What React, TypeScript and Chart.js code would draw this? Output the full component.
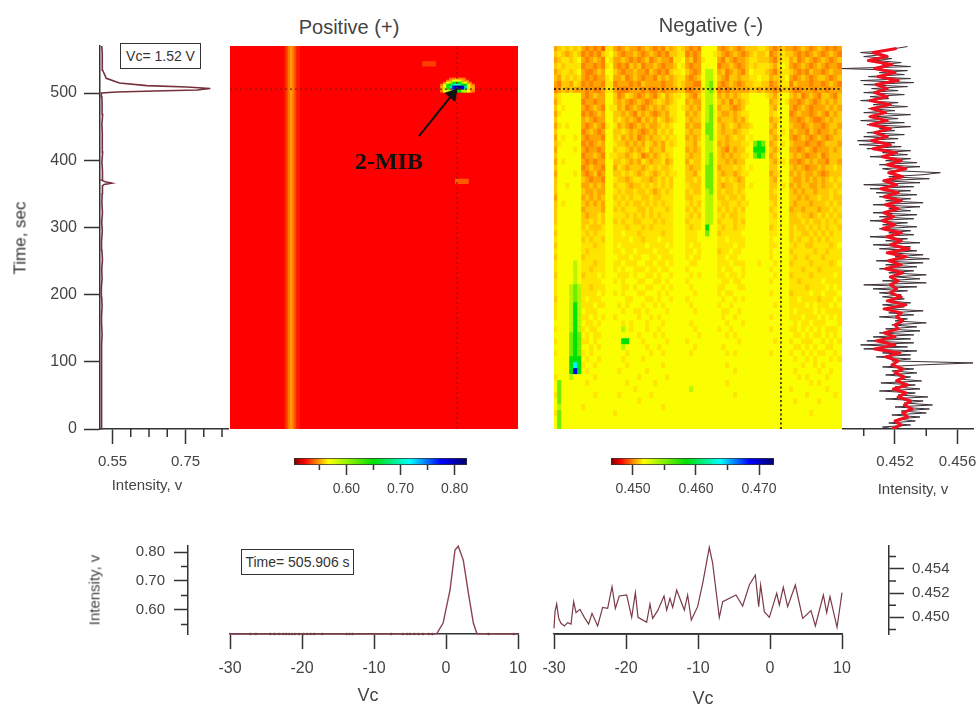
import React, { useEffect, useRef } from "react";
import { Chart, registerables } from "chart.js";
Chart.register(...registerables);

// ---------- axis ranges and ticks ----------
const VC_MIN = -30, VC_MAX = 10, T_MIN = 0, T_MAX = 570;
const VC_TICKS = [-30, -20, -10, 0, 10];
const TIME_TICKS = [0, 100, 200, 300, 400, 500];
const LEFT_X_TICKS = [0.55, 0.75];
const LEFT_X_MINOR = [0.6, 0.65, 0.7, 0.8, 0.85];
const RIGHT_X_TICKS = [0.452, 0.456];
const RIGHT_X_MINOR = [0.45, 0.454];
const BL_Y_TICKS = [0.6, 0.7, 0.8];
const BL_Y_MINOR = [0.55, 0.65, 0.75];
const BR_Y_TICKS = [0.45, 0.452, 0.454];
const BR_Y_MINOR = [0.449, 0.451, 0.453, 0.455];
const BR_Y_RANGE = [0.44863, 0.45587];
const CB_POS_RANGE = [0.503, 0.823];
const CB_POS_TICKS = [0.6, 0.7, 0.8];
const CB_POS_MINOR = [0.55, 0.65, 0.75];
const CB_NEG_RANGE = [0.44651, 0.47238];
const CB_NEG_TICKS = [0.45, 0.46, 0.47];
const CB_NEG_MINOR = [0.455, 0.465];

// ---------- colour table (fraction along the colour bar) ----------
const COLOR_STOPS: [number, string][] = [
  [0, "#7a0000"], [0.06, "#ff0000"], [0.2, "#ffff00"], [0.46, "#00e000"],
  [0.67, "#00ffff"], [0.85, "#0000ff"], [1, "#000070"],
];

// ---------- positive map ----------
const POS_BASE = 0.522;
const POS_BAND_VC = [-22.22, -21.94, -21.67, -21.39, -21.11, -20.83, -20.55];
const POS_BAND_VAL = [0.527, 0.535, 0.544, 0.551, 0.544, 0.535, 0.527];
const POS_SPOT_LEVELS = [0.522, 0.5446, 0.551, 0.567, 0.5926, 0.65, 0.6886, 0.7174, 0.775, 0.813];
const POS_SPOT_ROWS = [
  "00011211000",
  "00123332100",
  "01345554310",
  "13556765531",
  "23568998632",
  "24568998642",
  "13444554431",
];
const POS_SPOT_VC0 = -0.486;
const POS_SPOT_T0 = 522.3;
const POS_SMALL_VC = [-2.36, -2.36, 2.2, 2.2];
const POS_SMALL_T = [542, 545, 367, 370];
const POS_SMALL_VAL = [0.533, 0.533, 0.538, 0.538];

// ---------- negative map: one string per row, top to bottom ----------
const NEG_LEVELS = [0.4494, 0.4499, 0.4504, 0.4509, 0.4513, 0.4518, 0.4536, 0.4555, 0.4585, 0.464, 0.467, 0.469];
const NEG_ROWS = [
  "2 343434 212120 44 212322123212132 343 2121 5555 2123212 333443 21 232 2123212321212",
  "3 432343 121213 45 321223212321213 344 1212 5554 3212321 234334 12 343 3212123212321",
  "2 344345 212321 54 223212123123221 445 2312 4555 2132122 344333 21 344 2312321232123",
  "3 434444 122121 45 212132312232122 354 2122 5555 1223212 343444 32 454 2123212321221",
  "2 344345 211232 55 321223221321213 445 3212 5665 2312321 354443 21 344 3212132212322",
  "3 243434 212122 45 223123212213232 344 2123 5665 3213323 344544 23 345 2123212332123",
  "2 133243 121221 44 122212132222122 343 2211 5675 2123212 334433 12 344 1322212212321",
  "1 232322 212112 44 211122212112122 233 1122 4674 1212222 233232 21 233 2112221221222",
  "3 455555 212322 55 312432123213423 445 3213 5665 2323234 455554 32 455 3231232133213",
  "2 455555 122122 55 323212321234323 455 2322 5665 3231323 455555 23 454 2212321232323",
  "3 545555 212321 54 423123212323234 454 3232 5675 2332123 555555 32 555 2123212223232",
  "2 455555 121232 55 332321323212324 455 2323 5675 3223234 455555 34 555 1232212321323",
  "3 555555 232122 55 343232132324323 455 3233 5675 2333232 455555 23 455 2212321123233",
  "2 454555 212321 45 423212323223434 555 2322 5775 3234323 345555 32 555 3221232212332",
  "3 555555 123212 55 334323212324343 555 3233 5775 3233234 455555 23 545 2322132122323",
  "2 545545 212221 55 342323123233434 455 2323 5675 3323433 545555 32 455 2123212321233",
  "3 455555 121232 55 433232324323243 455 3324 5665 2323334 457875 23 545 3222122123332",
  "2 555545 212212 55 344323234233244 555 2323 5665 3213233 558885 32 455 2212321222323",
  "3 555555 122321 54 433234312323434 555 3233 5675 3232334 457875 23 555 3232122312333",
  "2 545555 212122 55 334323243233423 555 2433 5675 3323233 555555 32 445 2212323221332",
  "3 555555 123221 55 243233323434334 555 3233 5775 2333434 545555 33 555 3232122323343",
  "2 555545 212312 55 334343234323434 455 3324 5775 3233234 455555 23 455 2323223212333",
  "3 555555 321221 55 433234433234343 555 3343 5775 3434323 555555 32 555 3223232323434",
  "3 554555 223232 55 344323343434343 555 4333 5775 3233433 545555 33 545 2323322323343",
  "3 555555 322322 55 434334334323434 555 3433 5675 3433434 555555 34 555 3232332333434",
  "2 555555 232323 55 343434433433444 555 3344 5665 3343343 555555 33 555 3323233433433",
  "3 545555 323232 55 434343343434344 555 4343 5665 4334434 455555 43 555 3233323334343",
  "3 555555 233332 55 343444334344434 555 3434 5665 3434343 555555 34 555 2332333233434",
  "3 555555 323343 55 444343434343444 555 4343 5665 4343344 555555 43 555 3343323434343",
  "3 555555 334343 55 343443344434344 555 3444 5665 3444343 555555 44 555 3334343343434",
  "4 555555 343334 55 444344434344444 555 4344 5855 4344344 555555 34 555 3433434343443",
  "3 555555 434344 55 445444344444344 555 4445 5755 3444445 555555 44 555 3443343434344",
  "4 555555 343443 55 444454434445444 555 4445 5555 4454444 555555 45 555 3434434343444",
  "3 555555 444344 55 454444445444454 555 4544 5555 4444544 555555 44 555 4344334444345",
  "4 555555 434444 55 445445444454445 555 4454 5555 3445445 555555 45 555 3444443443444",
  "3 555555 344444 55 544454455445444 555 4544 5555 4454455 555555 45 555 4344344434444",
  "4 555565 444344 55 445444554454454 555 5445 5555 4445444 555455 54 555 3444434444345",
  "4 555565 443444 55 454554445445445 555 4555 5555 4544554 555555 45 555 4443444344444",
  "3 555565 344454 55 544454554454554 555 5454 5555 4454454 555555 54 555 3444434444454",
  "4 555565 444445 55 454555445544545 555 4555 5555 5445445 555555 45 555 4434444454444",
  "4 555676 443444 55 554454554455454 555 5455 5555 4455544 555555 55 555 4444344445454",
  "4 555676 444454 55 454555445554545 555 5545 5555 4544555 555555 45 555 3444454454445",
  "3 555676 454445 55 555445554454554 555 4555 5555 5455454 555555 55 555 4454444344454",
  "4 555686 444544 55 545455545545455 555 5455 5555 4554555 555555 54 555 4444545444545",
  "4 555686 544455 55 554554454555545 555 5545 5555 5445545 555555 55 555 4544445454444",
  "4 555686 445454 55 455555455454555 555 5555 5555 5455455 555555 45 555 4445444545454",
  "5 555686 544545 55 554545554555455 555 5455 5555 5545554 555555 55 555 5454454445554",
  "4 555686 454455 55 556545554554555 555 5545 5555 4554555 555555 45 555 4454545454445",
  "5 555787 545445 55 555555455545455 555 5554 5555 5545455 555555 55 555 5445454454545",
  "4 555787 445455 55 558855545555545 555 4555 5555 5555545 555555 54 555 4554445545454",
  "5 555787 554545 55 556555554554555 555 5545 5555 5455555 555555 55 555 5445454554455",
  "4 555787 454555 55 555455555455455 555 5455 5555 5545455 555555 45 555 4554545445545",
  "5 555888 545545 55 554555545555555 555 5555 5555 5555555 555555 55 555 5455454555454",
  "5 555898 455455 55 555455555555455 555 5555 5555 5545555 555555 55 555 5554554545555",
  "5 5558b8 545555 55 545555554555555 555 5555 5555 5555455 555555 55 555 5455555455455",
  "4 555655 555455 55 555555455555545 555 5555 5555 5555555 555555 55 555 5545455554555",
  "5 755555 545555 55 555455555545555 555 5555 5555 5545555 555555 55 555 5555545455555",
  "5 755555 555555 55 555554555555555 555 5655 5555 5555555 555555 55 555 4555555554555",
  "4 755555 555455 55 545555555455555 555 5555 5555 5555455 555555 55 555 5555455555545",
  "5 755555 555555 55 555555455555555 555 5555 5555 5555555 555555 55 555 5455555455555",
  "5 655555 455555 55 555555555555455 555 5555 5555 5555555 555555 55 555 5555555555555",
  "4 755555 555555 55 455555555555555 555 5555 5555 5555555 555555 55 555 5555545555555",
  "5 755555 555555 55 555555555555555 555 5555 5555 5555555 555555 55 555 5555555555555",
  "5 755555 555555 55 555555555555555 555 5555 5555 5555555 555555 55 555 5555555555555",
];

// ---------- crosshair and arrow ----------
const CROSS_VC = 1.52;
const CROSS_T = 505.906;
const ARROW_VC = [-3.75, 0.9];
const ARROW_T = [436, 498];

// ---------- left profile (Vc = 1.52 V) ----------
const LEFT_T = [0, 14, 28, 42, 56, 70, 84, 98, 112, 126, 140, 154, 168, 182, 196, 210, 224, 238, 252, 266, 280, 294, 308, 322, 336, 350, 362, 364, 366, 368, 370, 384, 398, 412, 426, 440, 454, 468, 482, 494, 500, 501.5, 503, 504.5, 506.7, 509, 511, 515, 522, 534, 549, 560, 570];
const LEFT_V = [0.5195, 0.5205, 0.5195, 0.521, 0.52, 0.5195, 0.521, 0.52, 0.5205, 0.5195, 0.5215, 0.5205, 0.52, 0.5215, 0.5205, 0.5195, 0.5215, 0.5205, 0.5225, 0.521, 0.52, 0.522, 0.5205, 0.5225, 0.521, 0.5215, 0.5225, 0.527, 0.548, 0.53, 0.5215, 0.5225, 0.521, 0.523, 0.5215, 0.5225, 0.521, 0.523, 0.5215, 0.521, 0.5196, 0.561, 0.666, 0.782, 0.818, 0.754, 0.644, 0.569, 0.533, 0.523, 0.5215, 0.5225, 0.5205];

// ---------- right profile, bottom to top ----------
const TRACE_DT = 2.98;
const TRACE_DARK = [
  .4520,.4512,.4530,.4516,.4533,.4522,.4536,.4518,.4540,.4524,
  .4542,.4520,.4544,.4526,.4538,.4514,.4541,.4522,.4533,.4510,
  .4536,.4520,.4533,.4511,.4537,.4522,.4530,.4514,.4534,.4518,
  .4532,.4512,.4536,.4570,.4518,.4530,.4508,.4530,.4512,.4534,
  .4500,.4528,.4498,.4532,.4502,.4530,.4506,.4532,.4510,.4536,
  .4514,.4534,.4518,.4540,.4520,.4528,.4510,.4532,.4516,.4538,
  .4516,.4526,.4512,.4530,.4515,.4526,.4512,.4524,.4510,.4528,
  .4506,.4534,.4500,.4540,.4512,.4536,.4520,.4540,.4516,.4532,
  .4510,.4534,.4514,.4538,.4508,.4542,.4520,.4538,.4516,.4534,
  .4510,.4530,.4506,.4536,.4514,.4528,.4504,.4532,.4516,.4530,
  .4510,.4534,.4512,.4528,.4504,.4532,.4510,.4534,.4506,.4530,
  .4516,.4536,.4506,.4538,.4514,.4530,.4510,.4534,.4508,.4530,
  .4504,.4532,.4500,.4536,.4512,.4542,.4516,.4538,.4549,.4520,
  .4512,.4536,.4510,.4534,.4514,.4530,.4504,.4528,.4512,.4530,
  .4502,.4524,.4497,.4520,.4496,.4522,.4500,.4526,.4502,.4520,
  .4510,.4530,.4502,.4526,.4498,.4522,.4508,.4530,.4500,.4520,
  .4503,.4528,.4506,.4522,.4498,.4516,.4504,.4526,.4500,.4522,
  .4505,.4528,.4500,.4532,.4498,.4530,.4503,.4526,.4510,.4528,
  .4486,.4530,.4512,.4524,.4508,.4518,.4500,.4512,.4498,.4516,
  .4520,.4528,
];
const TRACE_RED_DT = 5.96;
const TRACE_RED = [
  .4518,.4524,.4520,.4528,.4525,.4531,.4526,.4530,.4522,.4527,
  .4519,.4528,.4521,.4526,.4520,.4525,.4518,.4522,.4514,.4523,
  .4507,.4520,.4508,.4520,.4513,.4522,.4520,.4525,.4521,.4524,
  .4513,.4527,.4515,.4524,.4517,.4521,.4517,.4522,.4517,.4525,
  .4514,.4524,.4516,.4527,.4515,.4529,.4517,.4524,.4515,.4524,
  .4512,.4520,.4512,.4519,.4513,.4522,.4514,.4524,.4513,.4522,
  .4511,.4521,.4513,.4525,.4516,.4527,.4515,.4524,.4512,.4521,
  .4506,.4517,.4505,.4515,.4507,.4517,.4504,.4515,.4504,.4514,
  .4505,.4517,.4504,.4515,.4507,.4515,.4508,.4522,.4509,.4520,
  .4507,.4518,.4503,.4515,.4506,.4521,
];

// ---------- bottom spectra ----------
const BL_VC = [-30, -10, -1.3, -0.4, 0.56, 1.25, 1.7, 2.4, 3.1, 3.8, 4.3, 10];
const BL_V = [0.5172, 0.5172, 0.518, 0.555, 0.669, 0.807, 0.82, 0.772, 0.66, 0.555, 0.518, 0.5172];
const BL_SPECK_VC = [-27.2, -26.4, -24.4, -23.8, -23.2, -22.6, -22.2, -21.8, -21.4, -21, -20.4, -19.8, -19.3, -18.8, -18.3, -17.2, -13.8, -13.4, -13, -7.6, -6, -5.4, -5, -4.4, -3.8, -3.2, -2.4, -1.9, 5.9, 9.4];
const BR_VC = [-30, -29.86, -29.63, -29.35, -29.03, -28.56, -28.1, -27.64, -27.27, -26.94, -26.39, -25.79, -25.19, -24.72, -23.94, -23.24, -22.55, -21.94, -21.48, -20.93, -19.91, -19.21, -18.7, -18.33, -17.13, -16.67, -16.3, -15.6, -14.72, -14.35, -13.89, -13.52, -12.96, -11.9, -11.44, -10.93, -10.05, -9.35, -8.43, -7.96, -7.04, -6.57, -4.72, -3.8, -2.87, -2.04, -1.57, -1.3, -0.79, -0.09, 0.93, 1.3, 1.85, 2.45, 3.52, 4.54, 5.69, 6.3, 7.41, 7.87, 8.33, 9.31, 10];
const BR_V = [.44909, .45047, .4511, .44992, .44951, .44929, .44956, .44945, .45129, .45038, .45066, .45, .44945, .45033, .44929, .45082, .45074, .45252, .45074, .45176, .45184, .45, .45203, .45, .44959, .4511, .44992, .45055, .45176, .4506, .45156, .45082, .45225, .4506, .45184, .44978, .45088, .4528, .45576, .45444, .45, .45129, .45184, .45093, .45266, .45348, .45088, .45266, .45047, .45, .45198, .45102, .45247, .45088, .45266, .44992, .45055, .44929, .45184, .45038, .4517, .44918, .45203];

// ---------- helpers ----------
const INK = "#333";
const FONT = "'Liberation Sans', Arial, sans-serif";

function hex(c: string) {
  return [1, 3, 5].map((i) => parseInt(c.slice(i, i + 2), 16));
}
function colorAt(f: number) {
  const s = COLOR_STOPS;
  if (f <= s[0][0]) return s[0][1];
  for (let i = 1; i < s.length; i++) {
    if (f <= s[i][0]) {
      const k = (f - s[i - 1][0]) / (s[i][0] - s[i - 1][0]);
      const a = hex(s[i - 1][1]), b = hex(s[i][1]);
      return `rgb(${a.map((v, j) => Math.round(v + (b[j] - v) * k)).join(",")})`;
    }
  }
  return s[s.length - 1][1];
}
const colorOf = (v: number, range: number[]) => colorAt((v - range[0]) / (range[1] - range[0]));

const fixedTicks = (vals: number[]) => (axis: any) => {
  axis.ticks = vals.map((value) => ({ value }));
};
const noPad = (s: any) => { s.paddingLeft = 0; s.paddingRight = 0; s.paddingTop = 0; s.paddingBottom = 0; };
const fitH = (h: number) => (s: any) => { s.height = h; noPad(s); };
const fitW = (w: number) => (s: any) => { s.width = w; noPad(s); };
const axisGrid = (len: number) => ({ drawOnChartArea: false, tickLength: len, tickWidth: 1.5, tickColor: INK });
const axisBorder = { color: INK, width: 1.5 };
const tickFont = (size: number) => ({ family: FONT, size });

function minorPlugin(axisId: string, minors: number[], len: number) {
  return {
    id: "minor" + axisId,
    afterDraw(chart: any) {
      const s = chart.scales[axisId];
      const ctx = chart.ctx;
      ctx.save();
      ctx.strokeStyle = INK;
      ctx.lineWidth = 1.5;
      ctx.beginPath();
      for (const v of minors) {
        const p = s.getPixelForValue(v);
        if (s.position === "bottom") { ctx.moveTo(p, s.top); ctx.lineTo(p, s.top + len); }
        else if (s.position === "left") { ctx.moveTo(s.right, p); ctx.lineTo(s.right - len, p); }
        else { ctx.moveTo(s.left, p); ctx.lineTo(s.left + len, p); }
      }
      ctx.stroke();
      ctx.restore();
    },
  };
}
function shiftPlugin(axisId: string, dx: number) {
  return {
    id: "shift" + axisId,
    afterLayout(chart: any) {
      const s = chart.scales[axisId];
      s.left += dx;
      s.right += dx;
    },
  };
}

const baseOptions = (padding: any, scales: any) => ({
  responsive: false,
  maintainAspectRatio: false,
  animation: false,
  events: [],
  layout: { autoPadding: false, padding },
  plugins: { legend: { display: false }, tooltip: { enabled: false }, title: { display: false } },
  scales,
});

const hiddenMapScales = {
  x: { type: "linear", display: false, min: VC_MIN, max: VC_MAX, offset: false },
  y: { type: "linear", display: false, min: T_MIN, max: T_MAX },
};

function cellSet(cells: any[], colors: string[], thickness: number, order: number) {
  return { type: "bar", data: cells, backgroundColor: colors, barThickness: thickness, grouped: false, borderWidth: 0, order };
}
function crossSets(color: string, dash: number[], width: number) {
  const common = { type: "line", borderColor: color, borderDash: dash, borderWidth: width, pointRadius: 0, order: 0, fill: false };
  return [
    { ...common, data: [{ x: CROSS_VC, y: T_MIN }, { x: CROSS_VC, y: T_MAX }] },
    { ...common, data: [{ x: VC_MIN, y: CROSS_T }, { x: VC_MAX, y: CROSS_T }] },
  ];
}

function positiveConfig() {
  const band = POS_BAND_VC.map((x) => ({ x, y: [T_MIN, T_MAX] }));
  const spot: any[] = [], spotC: string[] = [];
  POS_SPOT_ROWS.forEach((row, r) => {
    [...row].forEach((ch, c) => {
      if (ch === "0") return;
      const t = POS_SPOT_T0 - r * 2.976;
      spot.push({ x: POS_SPOT_VC0 + c * 0.4167, y: [t - 3.2, t] });
      spotC.push(colorOf(POS_SPOT_LEVELS[+ch], CB_POS_RANGE));
    });
  });
  const small = POS_SMALL_VC.map((x, i) => ({ x, y: [POS_SMALL_T[i] - 2, POS_SMALL_T[i] + 2] }));
  return {
    data: {
      datasets: [
        {
          type: "line",
          data: ARROW_VC.map((x, i) => ({ x, y: ARROW_T[i] })),
          borderColor: "#111",
          backgroundColor: "#111",
          borderWidth: 2,
          pointStyle: "triangle",
          pointRotation: 40,
          pointRadius: [0, 6],
          order: -1,
        },
        ...crossSets("#901800", [2, 3], 1.2),
        cellSet(spot, spotC, 4, 1),
        cellSet(small, POS_SMALL_VAL.map((v) => colorOf(v, CB_POS_RANGE)), 13, 2),
        cellSet(band, POS_BAND_VAL.map((v) => colorOf(v, CB_POS_RANGE)), 3, 3),
        cellSet([{ x: -10, y: [T_MIN, T_MAX] }], [colorOf(POS_BASE, CB_POS_RANGE)], 292, 4),
      ],
    },
    options: baseOptions(0, hiddenMapScales),
  };
}

function negativeConfig() {
  const cells: any[] = [], colors: string[] = [];
  const nR = NEG_ROWS.length;
  NEG_ROWS.forEach((raw, r) => {
    const row = raw.replace(/ /g, "");
    const nC = 72;
    for (let c = 0; c < nC; c++) {
      const lvl = parseInt(row[c] ?? "5", 36);
      const t0 = T_MAX - ((r + 1) * (T_MAX - T_MIN)) / nR;
      const t1 = T_MAX - (r * (T_MAX - T_MIN)) / nR;
      cells.push({ x: VC_MIN + ((c + 0.5) * (VC_MAX - VC_MIN)) / nC, y: [t0, t1 + 1] });
      colors.push(colorOf(NEG_LEVELS[lvl], CB_NEG_RANGE));
    }
  });
  return {
    data: { datasets: [cellSet(cells, colors, 5, 1)] },
    options: baseOptions(0, hiddenMapScales),
  };
}

function negativeCrossConfig() {
  return {
    data: { datasets: crossSets("#111", [2, 2.5], 1.5) },
    options: baseOptions(0, hiddenMapScales),
  };
}

function leftConfig() {
  return {
    type: "scatter",
    data: {
      datasets: [{
        data: LEFT_T.map((y, i) => ({ x: LEFT_V[i], y })),
        showLine: true, borderColor: "#74303c", borderWidth: 1.6, pointRadius: 0, clip: false,
      }],
    },
    options: baseOptions({ top: 16, right: 2 }, {
      x: {
        type: "linear", min: 0.5158, max: 0.8664, afterBuildTicks: fixedTicks(LEFT_X_TICKS),
        afterFit: fitH(91),
        border: axisBorder, grid: axisGrid(15),
        ticks: { font: tickFont(15), color: "#444", padding: 9, maxRotation: 0, autoSkip: false, callback: (v: number) => v.toFixed(2) },
      },
      y: {
        type: "linear", min: T_MIN, max: T_MAX, afterBuildTicks: fixedTicks(TIME_TICKS),
        afterFit: fitW(100),
        border: axisBorder, grid: axisGrid(16),
        ticks: { font: tickFont(16), color: "#444", padding: 7, autoSkip: false, callback: (v: number) => String(v) },
      },
    }),
    plugins: [minorPlugin("x", LEFT_X_MINOR, 8)],
  };
}

function rightConfig() {
  return {
    type: "scatter",
    data: {
      datasets: [
        { data: TRACE_RED.map((x, i) => ({ x, y: i * TRACE_RED_DT })), showLine: true, borderColor: "#f01020", borderWidth: 3, borderJoinStyle: "round", pointRadius: 0, order: 0 },
        { data: TRACE_DARK.map((x, i) => ({ x, y: i * TRACE_DT })), showLine: true, borderColor: "#3c3038", borderWidth: 1, pointRadius: 0, order: 1 },
      ],
    },
    options: baseOptions({ top: 16, right: 6 }, {
      x: {
        type: "linear", min: 0.44861, max: 0.45699, afterBuildTicks: fixedTicks(RIGHT_X_TICKS),
        afterFit: fitH(91),
        border: axisBorder, grid: axisGrid(15),
        ticks: { font: tickFont(15), color: "#444", padding: 9, maxRotation: 0, autoSkip: false, callback: (v: number) => v.toFixed(3) },
      },
      y: { type: "linear", display: false, min: T_MIN, max: T_MAX },
    }),
    plugins: [minorPlugin("x", RIGHT_X_MINOR, 7)],
  };
}

function colorbarConfig(range: number[], ticks: number[], minors: number[], digits: number) {
  return {
    type: "bar",
    data: {
      labels: [""],
      datasets: [{
        data: [range],
        barPercentage: 1,
        categoryPercentage: 1,
        borderColor: "#333",
        borderWidth: 1,
        borderSkipped: false,
        backgroundColor: (c: any) => {
          const a = c.chart.chartArea;
          if (!a) return "#ff0000";
          const g = c.chart.ctx.createLinearGradient(a.left, 0, a.right, 0);
          COLOR_STOPS.forEach(([f, col]) => g.addColorStop(f, col));
          return g;
        },
      }],
    },
    options: {
      indexAxis: "y",
      ...baseOptions({ top: 8, left: 20, right: 20 }, {
        x: {
          type: "linear", min: range[0], max: range[1], afterBuildTicks: fixedTicks(ticks),
          afterFit: fitH(35),
          border: { display: false }, grid: axisGrid(10),
          ticks: { font: tickFont(14), color: "#444", padding: 6, maxRotation: 0, autoSkip: false, callback: (v: number) => v.toFixed(digits) },
        },
        y: { type: "category", display: false, offset: true },
      }),
    },
    plugins: [minorPlugin("x", minors, 5)],
  };
}

const vcAxis = () => ({
  type: "linear", min: VC_MIN, max: VC_MAX, afterBuildTicks: fixedTicks(VC_TICKS),
  afterFit: fitH(70),
  border: axisBorder, grid: axisGrid(15),
  ticks: { font: tickFont(16), color: "#444", padding: 10, maxRotation: 0, autoSkip: false, callback: (v: number) => String(v) },
});

function bottomLeftConfig() {
  return {
    type: "scatter",
    data: {
      datasets: [
        { data: BL_VC.map((x, i) => ({ x, y: BL_V[i] })), showLine: true, borderColor: "#8a4450", borderWidth: 1.4, pointRadius: 0, clip: false, order: 0 },
        { data: BL_SPECK_VC.map((x) => ({ x, y: 0.5172 })), backgroundColor: "#333", pointRadius: 1.3, borderWidth: 0, clip: false, order: 1 },
      ],
    },
    options: baseOptions({ top: 16, right: 12 }, {
      x: vcAxis(),
      y: {
        type: "linear", min: 0.5172, max: 0.8207, afterBuildTicks: fixedTicks(BL_Y_TICKS),
        afterFit: fitW(160),
        border: axisBorder, grid: axisGrid(14),
        ticks: { font: tickFont(15), color: "#444", padding: 9, autoSkip: false, callback: (v: number) => v.toFixed(2) },
      },
    }),
    plugins: [shiftPlugin("y", -42), minorPlugin("y", BL_Y_MINOR, 7)],
  };
}

function bottomRightConfig() {
  return {
    type: "scatter",
    data: {
      datasets: [
        { data: BR_VC.map((x, i) => ({ x, y: BR_V[i] })), showLine: true, borderColor: "#7a3a46", borderWidth: 1.2, pointRadius: 0, clip: false, order: 0 },
        { data: [{ x: VC_MIN, y: BR_Y_RANGE[0] }, { x: VC_MAX, y: BR_Y_RANGE[0] }], showLine: true, borderColor: INK, borderWidth: 1.5, pointRadius: 0, clip: false, order: 1 },
      ],
    },
    options: baseOptions({ top: 16, left: 14 }, {
      x: vcAxis(),
      y: {
        type: "linear", position: "right", min: BR_Y_RANGE[0], max: BR_Y_RANGE[1], afterBuildTicks: fixedTicks(BR_Y_TICKS),
        afterFit: fitW(137),
        border: axisBorder, grid: axisGrid(15),
        ticks: { font: tickFont(15), color: "#444", padding: 8, autoSkip: false, callback: (v: number) => v.toFixed(3) },
      },
    }),
    plugins: [shiftPlugin("y", 47), minorPlugin("y", BR_Y_MINOR, 7)],
  };
}

function Panel({ left, top, width, height, make, blur }: any) {
  const ref = useRef<HTMLCanvasElement | null>(null);
  useEffect(() => {
    const cfg: any = make();
    const chart = new Chart(ref.current as any, { type: "bar", ...cfg });
    return () => chart.destroy();
  }, []);
  return <canvas ref={ref} width={width} height={height} style={{ position: "absolute", left, top, width, height, filter: blur ? `blur(${blur}px)` : undefined }} />;
}

function Label({ x, y, text, size = 15, rotate = 0, family = FONT, weight = 400, color = "#444" }: any) {
  return (
    <div style={{
      position: "absolute", left: x, top: y, whiteSpace: "nowrap", fontFamily: family, fontSize: size, fontWeight: weight, color,
      transform: `translate(-50%,-50%) rotate(${rotate}deg)`, lineHeight: 1,
    }}>{text}</div>
  );
}
function Box({ left, top, width, height, text }: any) {
  return (
    <div style={{
      position: "absolute", left, top, width, height, boxSizing: "border-box", border: "1.5px solid #333", background: "#fff",
      display: "flex", alignItems: "center", justifyContent: "center", fontFamily: FONT, fontSize: 14, color: "#333", whiteSpace: "nowrap",
    }}>{text}</div>
  );
}

export default function App() {
  return (
    <div style={{ position: "absolute", left: 0, top: 0, width: 979, height: 704, overflow: "hidden", background: "#fff", filter: "blur(0.5px)" }}>
      <Panel left={0} top={30} width={230} height={490} make={leftConfig} />
      <Panel left={230} top={46} width={288} height={383} make={positiveConfig} />
      <Panel left={554} top={46} width={288} height={383} make={negativeConfig} blur={0.5} />
      <Panel left={554} top={46} width={288} height={383} make={negativeCrossConfig} />
      <Panel left={842} top={30} width={137} height={490} make={rightConfig} />
      <Panel left={274} top={450} width={213} height={50} make={() => colorbarConfig(CB_POS_RANGE, CB_POS_TICKS, CB_POS_MINOR, 2)} />
      <Panel left={591} top={450} width={203} height={50} make={() => colorbarConfig(CB_NEG_RANGE, CB_NEG_TICKS, CB_NEG_MINOR, 3)} />
      <Panel left={70} top={530} width={460} height={174} make={bottomLeftConfig} />
      <Panel left={540} top={530} width={439} height={174} make={bottomRightConfig} />

      <Label x={349} y={27} text="Positive (+)" size={20} />
      <Label x={711} y={25} text="Negative (-)" size={20} />
      <Label x={20} y={238} text="Time, sec" size={17} rotate={-90} color="#333" />
      <Label x={147} y={484} text="Intensity, v" size={15} />
      <Label x={913} y={488} text="Intensity, v" size={15} />
      <Label x={94} y={590} text="Intensity, v" size={15} rotate={-90} />
      <Label x={368} y={695} text="Vc" size={18} />
      <Label x={703} y={698} text="Vc" size={18} />
      <Label x={389} y={161} text="2-MIB" size={24} weight={700} family="'Liberation Serif', serif" color="#111" />
      <Box left={120} top={43} width={81} height={26} text="Vc= 1.52 V" />
      <Box left={241} top={549} width={113} height={26} text="Time= 505.906 s" />
    </div>
  );
}
